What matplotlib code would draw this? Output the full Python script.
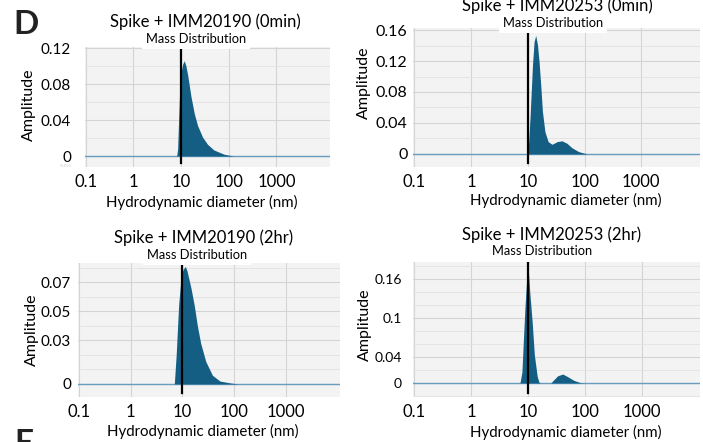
import matplotlib
matplotlib.use("Agg")
import matplotlib.pyplot as plt
from matplotlib.ticker import FixedLocator, NullFormatter, MultipleLocator, LogLocator
import numpy as np

plt.rcParams['font.family'] = ['Lato', 'DejaVu Sans']

# ---- data (diameter in nm, amplitude) ----
titles = ["Spike + IMM20190 (0min)", "Spike + IMM20253 (0min)",
          "Spike + IMM20190 (2hr)", "Spike + IMM20253 (2hr)"]

size_190_0 = [0.1, 8.1, 8.5, 8.9, 9.4, 10.0, 10.8, 11.7, 12.7, 13.8, 16.2, 19.0,
              22.2, 28.3, 36.0, 49.0, 80.0, 127.0, 13000]
amp_190_0 = [0, 0, 0.008, 0.04, 0.075, 0.093, 0.102, 0.106, 0.100, 0.090, 0.066,
             0.047, 0.034, 0.021, 0.013, 0.0067, 0.002, 0, 0]

size_253_0 = [0.1, 10.0, 10.3, 11.0, 12.1, 12.9, 13.8, 14.8, 15.8, 16.9, 18.1, 20.0,
              22.8, 26.7, 33.0, 40.0, 49.0, 60.0, 79.0, 112.0, 10800]
amp_253_0 = [0, 0, 0.012, 0.05, 0.115, 0.145, 0.153, 0.141, 0.119, 0.089, 0.055,
             0.029, 0.016, 0.0125, 0.016, 0.017, 0.0138, 0.008, 0.003, 0, 0]

size_190_2 = [0.1, 7.0, 7.6, 8.5, 9.4, 10.3, 11.4, 12.3, 14.7, 17.0, 19.5, 22.6,
              28.3, 38.0, 53.0, 84.0, 120.0, 11000]
amp_190_2 = [0, 0, 0.020, 0.055, 0.073, 0.079, 0.081, 0.078, 0.066, 0.054, 0.040,
             0.028, 0.0155, 0.006, 0.002, 0.0007, 0, 0]

size_253_2 = [0.1, 7.2, 7.8, 8.3, 8.8, 9.4, 10.0, 10.7, 11.8, 12.9, 14.5, 15.6,
              16.5, 25.0, 28.0, 33.0, 40.6, 49.0, 64.0, 83.0, 100.0, 10500]
amp_253_2 = [0, 0, 0.017, 0.069, 0.115, 0.156, 0.180, 0.140, 0.094, 0.043, 0.0097,
             0.001, 0, 0, 0.0046, 0.011, 0.0138, 0.010, 0.004, 0.0005, 0, 0]

sizes = [size_190_0, size_253_0, size_190_2, size_253_2]
amps = [amp_190_0, amp_253_0, amp_190_2, amp_253_2]

x_ticks = [0.1, 1, 10, 100, 1000]
x_ticklabels = ["0.1", "1", "10", "100", "1000"]
y_ticks = [[0, 0.04, 0.08, 0.12], [0, 0.04, 0.08, 0.12, 0.16],
           [0, 0.03, 0.05, 0.07], [0, 0.04, 0.1, 0.16]]
y_ticklabels = [["0", "0.04", "0.08", "0.12"], ["0", "0.04", "0.08", "0.12", "0.16"],
                ["0", "0.03", "0.05", "0.07"], ["0", "0.04", "0.1", "0.16"]]
marker_nm = 10

# ---- layout (pixels in a 703x442 canvas) ----
W, H = 703, 442
# left, right, top, bottom of plot area
boxes = [(85, 330, 47, 167), (413, 700, 28, 167), (78, 340, 263, 397), (413, 700, 262, 397)]
xlims = [(0.097, 13300), (0.095, 10800), (0.097, 11000), (0.095, 10500)]
ylims = [(-0.0122, 0.1212), (-0.0168, 0.1626), (-0.009, 0.0834), (-0.0215, 0.186)]
y_minor = [0.02, 0.02, 0.01, 0.02]
ytick_pad = [10, 4, 5, 8]
ytick_size = [11, 11.5, 11, 10]
title_xy = [(205, 22), (557, 6), (204, 238), (552, 235)]
mass_xy = [(196, 39), (553, 23), (197, 255), (542, 251)]
ylabel_xy = [(29, 105), (364, 83), (32, 330), (365, 325)]
xlabel_xy = [(202, 202), (566, 200), (203, 431), (566, 432)]

fill_col = "#145e84"
base_col = "#6a9cc0"

fig = plt.figure(figsize=(W / 100, H / 100), dpi=100)


def fx(x):
    return x / W


def fy(y):
    return 1 - y / H


for i in range(4):
    l, r, t, b = boxes[i]
    ax = fig.add_axes([fx(l), fy(b), (r - l) / W, (b - t) / H])
    ax.set_facecolor("#f3f3f3")
    ax.set_xscale("log")
    ax.set_xlim(*xlims[i])
    ax.set_ylim(*ylims[i])
    for s in ax.spines.values():
        s.set_visible(False)

    ax.xaxis.set_major_locator(FixedLocator(x_ticks))
    ax.set_xticklabels(x_ticklabels)
    ax.xaxis.set_minor_locator(LogLocator(base=10, subs=np.arange(2, 10)))
    ax.xaxis.set_minor_formatter(NullFormatter())
    ax.set_yticks(y_ticks[i])
    ax.set_yticklabels(y_ticklabels[i])
    ax.yaxis.set_minor_locator(MultipleLocator(y_minor[i]))
    ax.tick_params(which="both", length=0)
    ax.tick_params(axis="x", labelsize=12, pad=5)
    ax.tick_params(axis="y", labelsize=ytick_size[i], pad=ytick_pad[i])
    ax.grid(True, which="major", color="#d4d4d4", lw=0.8)
    ax.grid(True, which="minor", color="#e2e2e2", lw=0.6)
    ax.set_axisbelow(True)

    ax.axhline(0, color=base_col, lw=1.0, zorder=2)
    ax.fill_between(sizes[i], 0, amps[i], color=fill_col, lw=0, zorder=3)
    ax.axvline(marker_nm, ymin=0.03, ymax=1.0, color="black", lw=1.6, zorder=4)

    fig.text(fx(title_xy[i][0]), fy(title_xy[i][1]), titles[i], ha="center",
             va="center", fontsize=12)
    fig.text(fx(mass_xy[i][0]), fy(mass_xy[i][1]), "Mass Distribution", ha="center",
             va="center", fontsize=9.3,
             bbox=dict(facecolor="white", edgecolor="none", pad=3), zorder=10)
    fig.text(fx(ylabel_xy[i][0]), fy(ylabel_xy[i][1]), "Amplitude", rotation=90,
             ha="center", va="center", fontsize=11.5)
    fig.text(fx(xlabel_xy[i][0]), fy(xlabel_xy[i][1]), "Hydrodynamic diameter (nm)",
             ha="center", va="center", fontsize=10.8)

fig.text(fx(66), fy(166), "-0.010", ha="center", va="center", fontsize=3, color="#c8c8c8")
fig.text(fx(13), fy(25), "D", ha="left", va="center", fontsize=24, fontweight="bold",
         color="#222222")
fig.text(fx(14), fy(429), "E", ha="left", va="top", fontsize=24, fontweight="bold",
         color="#222222")

fig.savefig("out.png", dpi=100)
